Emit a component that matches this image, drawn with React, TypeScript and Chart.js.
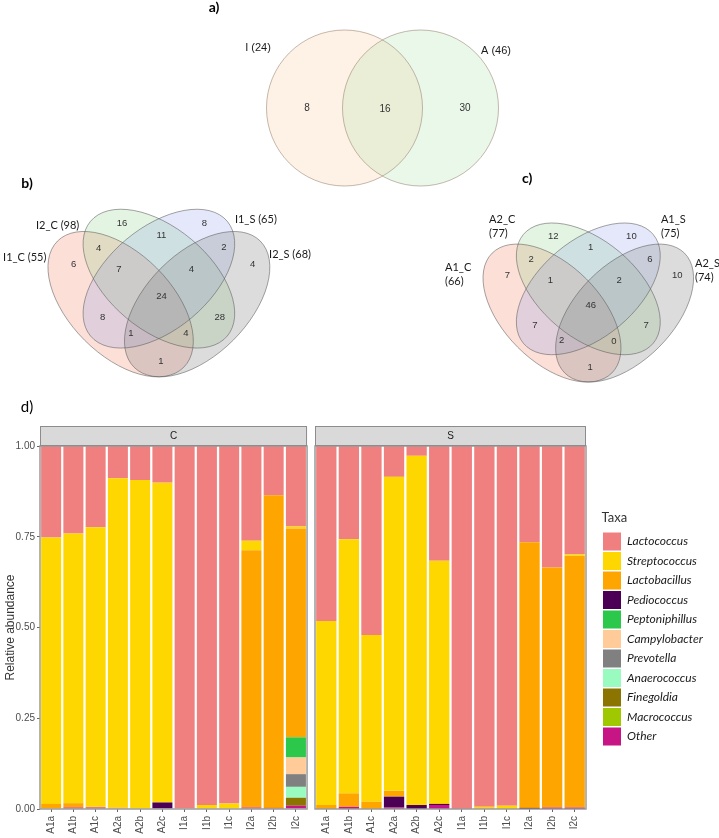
import React, { useEffect, useRef } from 'react';
import { Chart, registerables } from 'chart.js';
Chart.register(...registerables);

// ---------------- DATA ----------------
const samples = ['A1a', 'A1b', 'A1c', 'A2a', 'A2b', 'A2c', 'I1a', 'I1b', 'I1c', 'I2a', 'I2b', 'I2c'];
const facetNames = ['C', 'S'];
const taxa = ['Lactococcus', 'Streptococcus', 'Lactobacillus', 'Pediococcus', 'Peptoniphillus',
  'Campylobacter', 'Prevotella', 'Anaerococcus', 'Finegoldia', 'Macrococcus', 'Other'];
const taxaColors = ['#F08080', '#FFD700', '#FFA500', '#4B0055', '#2BC84C',
  '#FFCC99', '#808080', '#9AFBC0', '#8B7500', '#A0C800', '#C71585'];

// Facet C
const lactococcusC = [0.252, 0.241, 0.224, 0.089, 0.094, 0.101, 1.0, 0.989, 0.985, 0.261, 0.136, 0.222];
const streptococcusC = [0.734, 0.743, 0.770, 0.907, 0.906, 0.881, 0, 0.011, 0.015, 0.026, 0, 0.005];
const lactobacillusC = [0.014, 0.012, 0.002, 0.004, 0, 0, 0, 0, 0, 0.709, 0.861, 0.5755];
const pediococcusC = [0, 0, 0, 0, 0, 0.018, 0, 0, 0, 0, 0, 0];
const peptoniphillusC = [0, 0, 0, 0, 0, 0, 0, 0, 0, 0, 0, 0.0555];
const campylobacterC = [0, 0, 0, 0, 0, 0, 0, 0, 0, 0, 0, 0.046];
const prevotellaC = [0, 0, 0, 0, 0, 0, 0, 0, 0, 0, 0, 0.035];
const anaerococcusC = [0, 0, 0, 0, 0, 0, 0, 0, 0, 0, 0, 0.030];
const finegoldiaC = [0, 0, 0, 0, 0, 0, 0, 0, 0, 0, 0, 0.022];
const macrococcusC = [0, 0, 0, 0, 0, 0, 0, 0, 0, 0, 0, 0];
const otherC = [0, 0.004, 0.004, 0, 0, 0, 0, 0, 0, 0.004, 0.003, 0.009];

// Facet S
const lactococcusS = [0.482, 0.257, 0.521, 0.085, 0.027, 0.316, 1.0, 0.994, 0.991, 0.265, 0.335, 0.298];
const streptococcusS = [0.507, 0.700, 0.459, 0.865, 0.962, 0.670, 0, 0.006, 0.009, 0, 0, 0.004];
const lactobacillusS = [0.011, 0.037, 0.020, 0.016, 0, 0, 0, 0, 0, 0.732, 0.661, 0.694];
const pediococcusS = [0, 0, 0, 0.030, 0.011, 0.003, 0, 0, 0, 0.003, 0, 0];
const peptoniphillusS = [0, 0, 0, 0, 0, 0, 0, 0, 0, 0, 0, 0];
const campylobacterS = [0, 0, 0, 0, 0, 0, 0, 0, 0, 0, 0, 0];
const prevotellaS = [0, 0, 0, 0, 0, 0, 0, 0, 0, 0, 0, 0];
const anaerococcusS = [0, 0, 0, 0, 0, 0, 0, 0, 0, 0, 0, 0];
const finegoldiaS = [0, 0, 0, 0, 0, 0, 0, 0, 0, 0, 0, 0];
const macrococcusS = [0, 0, 0, 0, 0, 0, 0, 0, 0, 0, 0, 0];
const otherS = [0, 0.006, 0, 0.004, 0, 0.011, 0, 0, 0, 0, 0.004, 0.004];

const yTicks = [0, 0.25, 0.5, 0.75, 1];

// Venn data
const vennASets = ['I (24)', 'A (46)'];
const vennACounts = [8, 16, 30];
const vennBSets = [['I1_C (55)'], ['I2_C (98)'], ['I1_S (65)'], ['I2_S (68)']];
const vennBCounts = [16, 8, 11, 4, 2, 6, 7, 4, 4, 24, 8, 28, 1, 4, 1];
const vennCSets = [['A1_C', '(66)'], ['A2_C', '(77)'], ['A1_S', '(75)'], ['A2_S', '(74)']];
const vennCCounts = [12, 10, 1, 2, 6, 7, 1, 2, 10, 46, 7, 7, 2, 0, 1];

// ---------------- LAYOUT (normalised Venn geometry) ----------------
const quadEllipses = [
  { cx: 0.35, cy: 0.47, a: 0.35, b: 0.20, rot: 135, fill: 'rgba(245,130,100,0.25)' },
  { cx: 0.50, cy: 0.57, a: 0.35, b: 0.20, rot: 140, fill: 'rgba(120,200,110,0.20)' },
  { cx: 0.50, cy: 0.57, a: 0.35, b: 0.20, rot: 40, fill: 'rgba(120,140,230,0.20)' },
  { cx: 0.65, cy: 0.47, a: 0.35, b: 0.20, rot: 45, fill: 'rgba(128,128,128,0.28)' },
];
const quadCountPos = [
  [0.355, 0.785], [0.678, 0.788], [0.51, 0.74], [0.264, 0.69], [0.755, 0.693],
  [0.166, 0.627], [0.343, 0.605], [0.627, 0.605], [0.868, 0.627], [0.51, 0.50],
  [0.279, 0.418], [0.739, 0.418], [0.39, 0.357], [0.606, 0.355], [0.508, 0.247],
];
const vennBLabelPos = [[-0.111, 0.655], [0.018, 0.780], [0.798, 0.804], [0.932, 0.663]];
const vennCLabelPos = [[-0.092, 0.660], [0.090, 0.855], [0.800, 0.855], [0.941, 0.673]];
const pairCircles = [
  { cx: 0.31, cy: 0.5, r: 0.39, fill: 'rgba(250,190,130,0.20)' },
  { cx: 0.69, cy: 0.5, r: 0.39, fill: 'rgba(150,220,150,0.20)' },
];
const pairCountPos = [[0.1225, 0.5], [0.5125, 0.495], [0.9125, 0.5]];
const pairLabelPos = [[-0.1225, 0.80], [1.0675, 0.785]];

const FONT_SANS = '"Liberation Sans", Arial, sans-serif';
const FONT_HUM = 'Lato, "Open Sans", sans-serif';

type Canv = { key: string; left: number; top: number; w: number; h: number };
const canvases: Canv[] = [
  { key: 'va', left: 200, top: 0, w: 360, h: 200 },
  { key: 'vb', left: 0, top: 165, w: 340, h: 230 },
  { key: 'vc', left: 430, top: 165, w: 289, h: 230 },
  { key: 'bc', left: 0, top: 395, w: 312, h: 443 },
  { key: 'bs', left: 312, top: 395, w: 407, h: 443 },
];

// ---------------- PLUGINS ----------------
function vennPlugin(cfg: any) {
  return {
    id: 'venn_' + cfg.id,
    afterDraw(chart: any) {
      const { ctx } = chart;
      const xs = chart.scales.x, ys = chart.scales.y;
      const unit = xs.getPixelForValue(1) - xs.getPixelForValue(0);
      const px = (v: number) => xs.getPixelForValue(v);
      const py = (v: number) => ys.getPixelForValue(v);
      const pathE = (e: any) => {
        ctx.beginPath();
        ctx.ellipse(px(e.cx), py(e.cy), e.a * unit, e.b * unit, -e.rot * Math.PI / 180, 0, Math.PI * 2);
      };
      const pathC = (c: any) => {
        ctx.beginPath();
        ctx.arc(px(c.cx), py(c.cy), c.r * unit, 0, Math.PI * 2);
      };
      ctx.save();
      (cfg.ellipses || []).forEach((e: any) => { pathE(e); ctx.fillStyle = e.fill; ctx.fill(); });
      (cfg.circles || []).forEach((c: any) => { pathC(c); ctx.fillStyle = c.fill; ctx.fill(); });
      ctx.strokeStyle = cfg.stroke;
      ctx.lineWidth = 1;
      (cfg.ellipses || []).forEach((e: any) => { pathE(e); ctx.stroke(); });
      (cfg.circles || []).forEach((c: any) => { pathC(c); ctx.stroke(); });
      // counts
      ctx.fillStyle = '#333';
      ctx.font = cfg.countFont;
      ctx.textAlign = 'center';
      ctx.textBaseline = 'middle';
      cfg.counts.forEach((n: number, i: number) => {
        const p = cfg.countPos[i];
        ctx.fillText(String(n), px(p[0]), py(p[1]));
      });
      // set labels
      ctx.fillStyle = '#1a1a1a';
      ctx.font = cfg.labelFont;
      ctx.textAlign = cfg.labelAlign;
      cfg.labels.forEach((lines: string[], i: number) => {
        const p = cfg.labelPos[i];
        lines.forEach((t, j) => ctx.fillText(t, px(p[0]), py(p[1]) + j * 14));
      });
      // panel letter
      ctx.font = 'bold 14px ' + FONT_HUM;
      ctx.textAlign = 'center';
      ctx.fillStyle = '#000';
      ctx.fillText(cfg.letter[0], px(cfg.letter[1]), py(cfg.letter[2]));
      ctx.restore();
    },
  };
}

function facetPlugin(label: string, letter?: [string, number, number]) {
  return {
    id: 'facet_' + label,
    afterDraw(chart: any) {
      const { ctx, chartArea: a } = chart;
      ctx.save();
      ctx.strokeStyle = '#9b9b9b';
      ctx.lineWidth = 1.5;
      ctx.strokeRect(a.left, a.top, a.right - a.left, a.bottom - a.top);
      const h = 20;
      ctx.fillStyle = '#d9d9d9';
      ctx.fillRect(a.left, a.top - h, a.right - a.left, h);
      ctx.strokeStyle = '#8c8c8c';
      ctx.lineWidth = 1;
      ctx.strokeRect(a.left + 0.5, a.top - h + 0.5, a.right - a.left - 1, h - 1);
      ctx.fillStyle = '#1a1a1a';
      ctx.font = '10px ' + FONT_SANS;
      ctx.textAlign = 'center';
      ctx.textBaseline = 'middle';
      ctx.fillText(label, (a.left + a.right) / 2, a.top - h / 2);
      if (letter) {
        ctx.font = '15px ' + FONT_HUM;
        ctx.fillStyle = '#000';
        ctx.fillText(letter[0], letter[1], letter[2]);
      }
      ctx.restore();
    },
  };
}

// Fixes the legend box width so the plot panel keeps its place
const legendWidthPlugin = {
  id: 'legendWidth',
  beforeLayout(chart: any) {
    const lg = chart.legend;
    if (lg && !lg.__fixedWidth) {
      const orig = lg.fit.bind(lg);
      lg.fit = function () { orig(); this.width = 117.5; };
      lg.__fixedWidth = true;
    }
  },
};

// ---------------- CHART BUILDERS ----------------
function vennChart(canvas: HTMLCanvasElement, pad: any, yMin: number, yMax: number, cfg: any) {
  return new Chart(canvas, {
    type: 'scatter',
    data: { datasets: [] },
    options: {
      responsive: false,
      animation: false,
      layout: { padding: pad },
      scales: {
        x: { type: 'linear', display: false, min: 0, max: 1 },
        y: { type: 'linear', display: false, min: yMin, max: yMax },
      },
      plugins: { legend: { display: false }, tooltip: { enabled: false } },
    },
    plugins: [vennPlugin(cfg)],
  } as any);
}

function buildDatasets(values: number[][]) {
  // ggplot stacks the first level on top: draw from the last taxon upward
  const ds: any[] = [];
  for (let i = taxa.length - 1; i >= 0; i--) {
    ds.push({
      label: taxa[i],
      data: values[i],
      backgroundColor: taxaColors[i],
      borderWidth: 0,
      barPercentage: 0.9,
      categoryPercentage: 1,
    });
  }
  return ds;
}

function barChart(canvas: HTMLCanvasElement, values: number[][], facet: string, withAxis: boolean, withLegend: boolean) {
  const tickFont = { family: FONT_SANS, size: 10 };
  const yScale: any = {
    stacked: true,
    min: 0,
    max: 1,
    display: withAxis,
    afterBuildTicks: (s: any) => { s.ticks = yTicks.map((v) => ({ value: v })); },
    ticks: { color: '#4d4d4d', font: tickFont, padding: 2, callback: (v: any) => Number(v).toFixed(2) },
    grid: { display: true, drawOnChartArea: false, tickLength: 3, color: '#666' },
    border: { display: false },
    title: { display: true, text: 'Relative abundance', color: '#333', font: { family: FONT_SANS, size: 12 }, padding: { top: 3, bottom: 0 } },
  };
  if (withAxis) yScale.afterFit = (s: any) => { s.width = 40; };
  const scales: any = {
    x: {
      stacked: true,
      grid: { display: true, drawOnChartArea: false, offset: false, tickLength: 3, color: '#666' },
      border: { display: false },
      ticks: { maxRotation: 90, minRotation: 90, autoSkip: false, color: '#4d4d4d', font: tickFont, padding: 4 },
      afterFit: (s: any) => { s.height = 29; },
    },
    y: yScale,
  };
  if (withLegend) {
    scales.spacer = {
      type: 'linear', position: 'right', display: true,
      grid: { display: false, drawTicks: false }, ticks: { display: false }, border: { display: false },
      afterFit: (s: any) => { s.width = 15.5; },
    };
  }
  return new Chart(canvas, {
    type: 'bar',
    data: { labels: samples, datasets: buildDatasets(values) },
    options: {
      responsive: false,
      animation: false,
      layout: { padding: withLegend ? { left: 3, top: 51, right: 0, bottom: 0 } : { left: 0, top: 51, right: 2, bottom: 0 } },
      scales,
      plugins: {
        tooltip: { enabled: false },
        legend: withLegend ? {
          display: true,
          position: 'right',
          align: 'start',
          reverse: true,
          labels: {
            boxWidth: 18, boxHeight: 18, padding: 1.5, color: '#1a1a1a',
            font: { family: FONT_HUM, size: 12, style: 'italic' },
          },
          title: {
            display: true, text: 'Taxa', position: 'start', color: '#333',
            font: { family: FONT_HUM, size: 13 }, padding: { top: 65.5, bottom: 4 },
          },
        } : { display: false },
      },
    },
    plugins: withLegend ? [facetPlugin(facet), legendWidthPlugin] : [facetPlugin(facet, ['d)', 27, 12])],
  } as any);
}

export default function App() {
  const refs = useRef<Record<string, HTMLCanvasElement | null>>({});

  useEffect(() => {
    const r = refs.current;
    const charts: Chart[] = [];
    charts.push(vennChart(r.va!, { left: 82.5, right: 77.5, top: 0, bottom: 0 }, 0.04, 1.04, {
      id: 'a', circles: pairCircles, stroke: 'rgba(150,128,110,0.55)',
      counts: vennACounts, countPos: pairCountPos, countFont: '10px ' + FONT_SANS,
      labels: vennASets.map((s) => [s]), labelPos: pairLabelPos, labelFont: '11px ' + FONT_SANS, labelAlign: 'center',
      letter: ['a)', -0.3425, 1.005],
    }));
    charts.push(vennChart(r.vb!, { left: 31.4, right: 53.6, top: 9.1, bottom: 1.6 }, 0.12, 0.98, {
      id: 'b', ellipses: quadEllipses, stroke: 'rgba(90,90,90,0.55)',
      counts: vennBCounts, countPos: quadCountPos, countFont: '9.5px ' + FONT_SANS,
      labels: vennBSets, labelPos: vennBLabelPos, labelFont: '11px ' + FONT_HUM, labelAlign: 'left',
      letter: ['b)', -0.017, 0.945],
    }));
    charts.push(vennChart(r.vc!, { left: 37.3, right: 9.7, top: 24.64, bottom: 2.08 }, 0.14, 0.98, {
      id: 'c', ellipses: quadEllipses, stroke: 'rgba(90,90,90,0.55)',
      counts: vennCCounts, countPos: quadCountPos, countFont: '9.5px ' + FONT_SANS,
      labels: vennCSets, labelPos: vennCLabelPos, labelFont: '11px ' + FONT_HUM, labelAlign: 'left',
      letter: ['c)', 0.247, 1.028],
    }));
    const valuesC = [lactococcusC, streptococcusC, lactobacillusC, pediococcusC, peptoniphillusC,
      campylobacterC, prevotellaC, anaerococcusC, finegoldiaC, macrococcusC, otherC];
    const valuesS = [lactococcusS, streptococcusS, lactobacillusS, pediococcusS, peptoniphillusS,
      campylobacterS, prevotellaS, anaerococcusS, finegoldiaS, macrococcusS, otherS];
    charts.push(barChart(r.bc!, valuesC, facetNames[0], true, false));
    charts.push(barChart(r.bs!, valuesS, facetNames[1], false, true));
    return () => charts.forEach((c) => c.destroy());
  }, []);

  return (
    <div style={{ position: 'fixed', left: 0, top: 0, width: 719, height: 838, background: '#fff', overflow: 'hidden' }}>
      {canvases.map((c) => (
        <canvas
          key={c.key}
          ref={(el) => { refs.current[c.key] = el; }}
          width={c.w}
          height={c.h}
          style={{ position: 'absolute', left: c.left, top: c.top, width: c.w, height: c.h }}
        />
      ))}
    </div>
  );
}
